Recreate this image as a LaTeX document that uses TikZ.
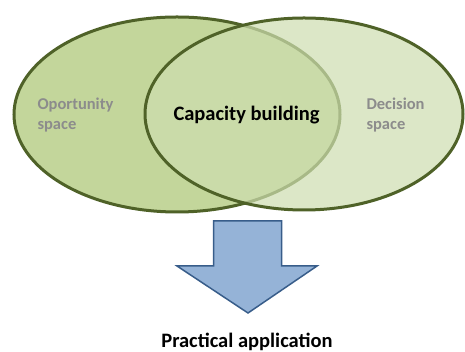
\documentclass[tikz,border=0pt]{standalone}
\usepackage{fontspec}
\setmainfont{Carlito}
\usetikzlibrary{shapes.geometric,patterns}
\definecolor{olv}{HTML}{4F6228}
\definecolor{lgreen}{HTML}{C3D69B}
\definecolor{rgreen}{HTML}{CEDEB0}
\definecolor{afill}{HTML}{95B3D7}
\definecolor{aline}{HTML}{385D8A}
\definecolor{gtext}{HTML}{8C8C8C}
\tikzset{
  venn/.style={ellipse, draw=olv, line width=3pt, inner sep=0pt},
  graylbl/.style={text=gtext, font=\fontsize{16.5}{20.5}\selectfont\bfseries, align=left, anchor=west},
  mainlbl/.style={text=black, font=\fontsize{20.5}{24}\selectfont\bfseries},
}
\begin{document}
\begin{tikzpicture}[x=1pt,y=1pt]
\useasboundingbox (0,0) rectangle (465,352);
\fill[white] (0,0) rectangle (465,352);
\node[venn, fill=lgreen, minimum width=326pt, minimum height=195pt] (L) at (177,237.5) {};
\node[venn, draw=none, fill=rgreen, fill opacity=0.7, minimum width=318pt, minimum height=192pt] (R) at (304,238) {};
\node[venn, minimum width=318pt, minimum height=192pt] (Rline) at (304,238) {};
\node[graylbl] (opp) at (34,237) {Oportunity\\space};
\node[graylbl] (dec) at (363,237) {Decision\\space};
\node[mainlbl] (cap) at (246.5,237) {Capacity building};
\draw[fill=afill, draw=aline, line width=1.5pt, line join=miter]
  (213.5,131) -- (281.5,131) -- (281.5,86) -- (317,86) -- (248,39) -- (177,86) -- (213.5,86) -- cycle;
\node[mainlbl] (prac) at (247,10.5) {Practical application};
\end{tikzpicture}
\end{document}
